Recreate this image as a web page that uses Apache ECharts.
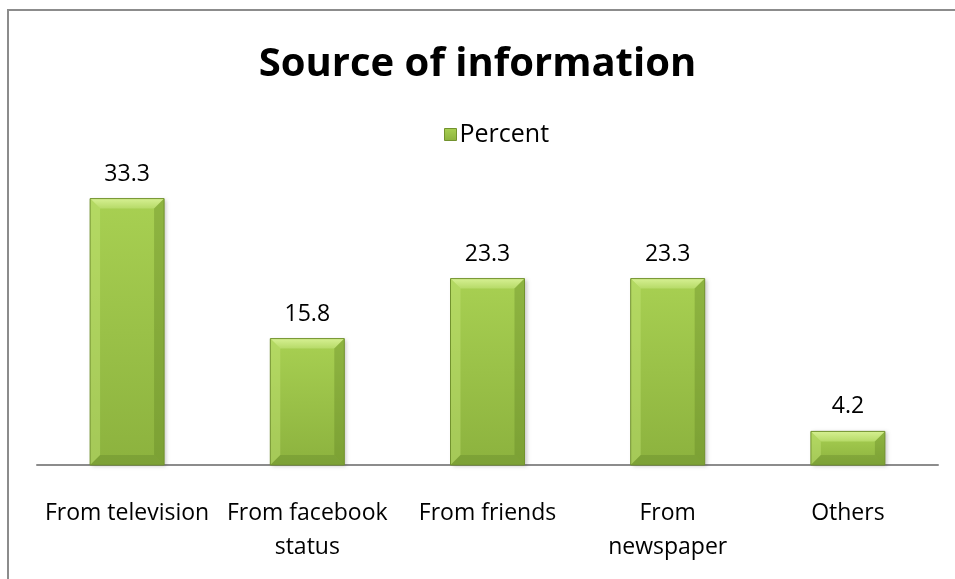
<!DOCTYPE html>
<html>
<head>
<meta charset="utf-8">
<script src="https://cdn.jsdelivr.net/npm/echarts@6/dist/echarts.min.js"></script>
<style>
  html, body { margin: 0; padding: 0; background: #fff; }
  #chart { width: 955px; height: 579px; }
</style>
</head>
<body>
<div id="chart"></div>
<script>
// Survey: where respondents heard about it (percent of answers)
const categories = ['From television', 'From facebook\nstatus', 'From friends', 'From\nnewspaper', 'Others'];
const percentValues = [33.3, 15.8, 23.3, 23.3, 4.2];
const seriesName = 'Percent';
const chartTitle = 'Source of information';

const FONT = '"Open Sans", "Noto Sans", sans-serif';
const BAR_W = 74;
const BEVEL = 10;

const faceGradient = new echarts.graphic.LinearGradient(0, 0, 0, 1, [
  { offset: 0, color: '#a8d052' },
  { offset: 1, color: '#8cb23e' }
]);

// Bevel highlights laid over each bar, positioned through the axes
function renderBevel(params, api) {
  const idx = api.value(0);
  const v = api.value(1);
  const top = api.coord([idx, v]);
  const base = api.coord([idx, 0]);
  const x0 = top[0] - BAR_W / 2, x1 = top[0] + BAR_W / 2;
  const yt = top[1], yb = base[1];
  const b = Math.min(BEVEL, (yb - yt) / 2);
  const poly = (pts, fill) => ({ type: 'polygon', shape: { points: pts }, style: { fill: fill }, silent: true });
  return {
    type: 'group',
    children: [
      poly([[x0, yt], [x1, yt], [x1 - b, yt + b], [x0 + b, yt + b]],
        new echarts.graphic.LinearGradient(0, 0, 0, 1, [
          { offset: 0, color: '#d6f092' }, { offset: 1, color: '#b6da68' }])),
      poly([[x0, yt], [x0 + b, yt + b], [x0 + b, yb - b], [x0, yb]], 'rgba(195,228,120,0.45)'),
      poly([[x1, yt], [x1 - b, yt + b], [x1 - b, yb - b], [x1, yb]], 'rgba(95,130,35,0.35)'),
      poly([[x0, yb], [x0 + b, yb - b], [x1 - b, yb - b], [x1, yb]], 'rgba(80,110,30,0.25)'),
      { type: 'rect', shape: { x: x0, y: yt, width: BAR_W, height: yb - yt },
        style: { fill: 'none', stroke: '#72922e', lineWidth: 1 }, silent: true }
    ]
  };
}

const chart = echarts.init(document.getElementById('chart'), null, { renderer: 'canvas' });
chart.setOption({
  backgroundColor: '#ffffff',
  animation: false,
  title: {
    text: chartTitle,
    left: 'center',
    top: 40,
    textStyle: { fontFamily: FONT, fontSize: 40, fontWeight: 'bold', color: '#000' }
  },
  legend: {
    data: [seriesName],
    top: 117,
    left: 439,
    itemWidth: 12,
    itemHeight: 12,
    icon: 'rect',
    itemStyle: { borderColor: '#72922e', borderWidth: 1 },
    textStyle: { fontFamily: FONT, fontSize: 25, color: '#000', padding: [0, 0, 0, -2] }
  },
  grid: { left: 37, right: 17, top: 145, bottom: 114, containLabel: false },
  xAxis: {
    type: 'category',
    data: categories,
    axisLine: { lineStyle: { color: '#8c8c8c', width: 2 } },
    axisTick: { show: false },
    axisLabel: {
      fontFamily: FONT, fontSize: 23, color: '#000', margin: 31,
      lineHeight: 34, interval: 0
    }
  },
  yAxis: {
    type: 'value', min: 0, max: 40,
    show: false, splitLine: { show: false }
  },
  series: [
    {
      name: seriesName,
      type: 'bar',
      data: percentValues,
      barWidth: BAR_W,
      itemStyle: {
        color: faceGradient,
        shadowColor: 'rgba(0,0,0,0.22)', shadowBlur: 4, shadowOffsetX: 2, shadowOffsetY: 1
      },
      label: {
        show: true, position: 'top', distance: 13,
        fontFamily: FONT, fontSize: 23, color: '#000',
        formatter: p => p.value.toFixed(1)
      }
    },
    {
      name: 'bevel',
      type: 'custom',
      renderItem: renderBevel,
      data: percentValues.map((v, i) => [i, v]),
      z: 3,
      silent: true
    }
  ],
  graphic: [
    { type: 'rect', shape: { x: 8, y: 10, width: 1000, height: 1000 },
      style: { fill: 'none', stroke: '#8c8c8c', lineWidth: 2 }, silent: true, z: 10 }
  ]
});
</script>
</body>
</html>
